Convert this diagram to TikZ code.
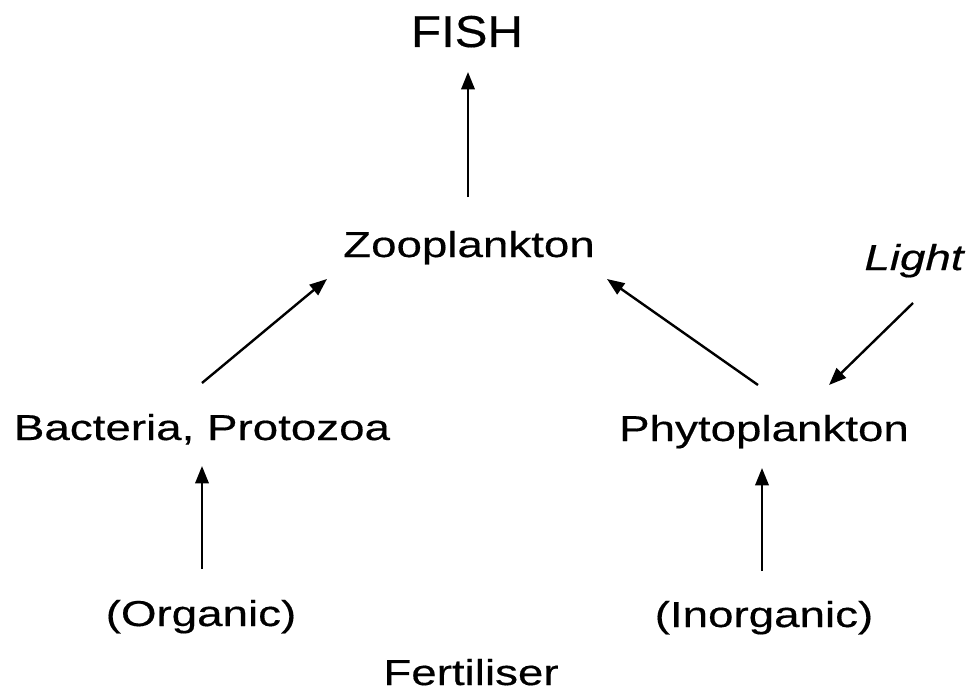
\documentclass[tikz,border=0pt]{standalone}
\usepackage{fontspec}
\setmainfont{Liberation Sans}[FakeStretch=1.27,FakeBold=0.4]
\newfontfamily\fishfont{Liberation Sans}[FakeStretch=1.1,FakeBold=0.4]
\usetikzlibrary{arrows.meta,calc}
\tikzset{
  lbl/.style={anchor=base, inner sep=0pt, font=\fontsize{27pt}{32pt}\selectfont},
  fishlbl/.style={anchor=base, inner sep=0pt, font=\fishfont\fontsize{33.5pt}{40pt}\selectfont},
  arr/.style={line width=1.8pt, -{Triangle[length=13pt,width=10pt]}}
}
\begin{document}
\begin{tikzpicture}[x=0.75pt,y=-0.75pt]
\useasboundingbox (0,0) rectangle (974,692);
\node[fishlbl] (fish) at (467,47) {FISH};
\node[lbl] (zoo) at (469,257) {Zooplankton};
\node[lbl] (light) at (914,270) {\itshape Light};
\node[lbl] (bact) at (202,440) {Bacteria, Protozoa};
\node[lbl] (phyto) at (764,441) {Phytoplankton};
\node[lbl] (org) at (201,626) {(Organic)};
\node[lbl] (inorg) at (764,627) {(Inorganic)};
\node[lbl] (fert) at (471,685) {Fertiliser};
\draw[arr] ($(zoo.base)+(-1,-60)$) -- ($(fish.base)+(1,25)$);
\draw[arr] ($(bact.base)+(0,-57)$) -- ($(zoo.base)+(-142,22)$);
\draw[arr] ($(phyto.base)+(-6,-56)$) -- ($(zoo.base)+(138,22)$);
\draw[arr] ($(light.base)+(-1,33)$) -- ($(phyto.base)+(65,-56)$);
\draw[arr] ($(org.base)+(1,-57)$) -- ($(bact.base)+(0,26)$);
\draw[arr] ($(inorg.base)+(-2,-56)$) -- ($(phyto.base)+(-2,27)$);
\end{tikzpicture}
\end{document}
